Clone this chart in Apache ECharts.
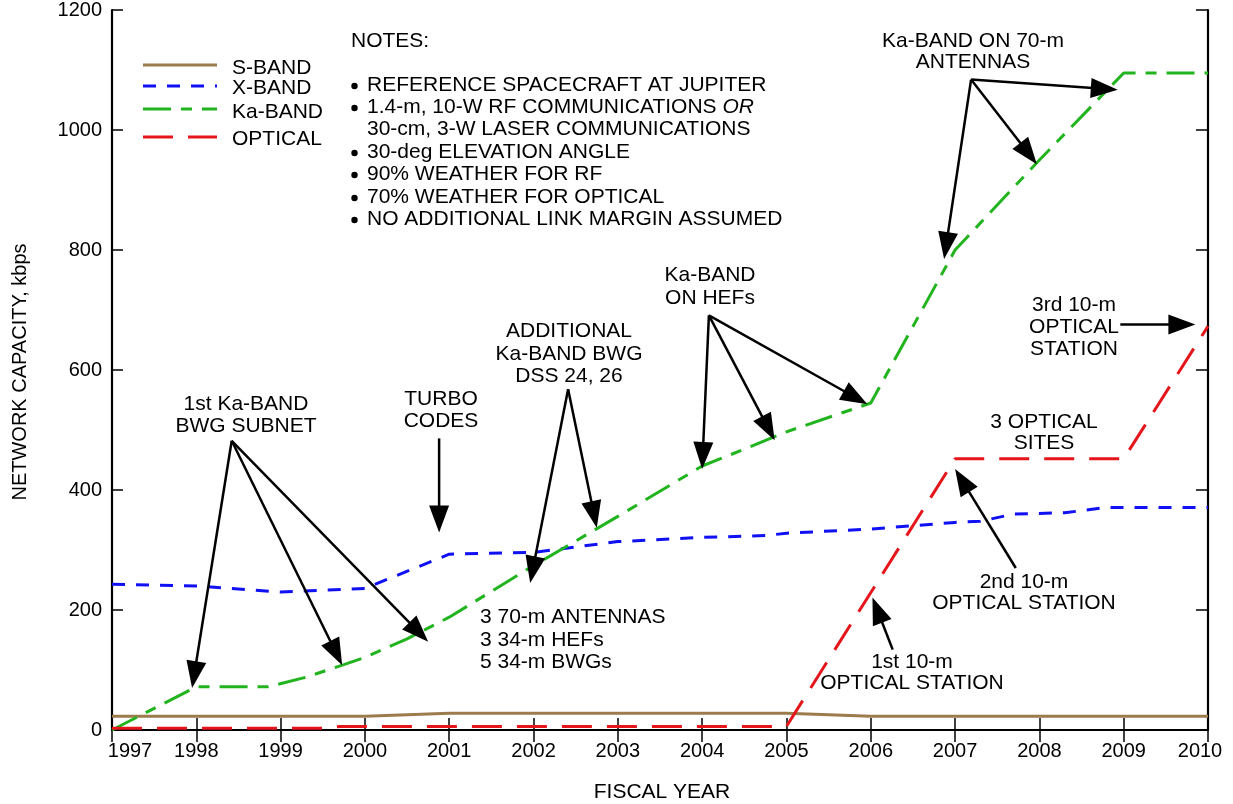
<!DOCTYPE html>
<html>
<head>
<meta charset="utf-8">
<script src="https://cdn.jsdelivr.net/npm/echarts@6/dist/echarts.min.js"></script>
<style>
  html, body { margin: 0; padding: 0; background: #ffffff; }
  #chart { width: 1233px; height: 804px; }
</style>
</head>
<body>
<div id="chart"></div>
<script>
// ---- Network capacity (kbps) by fiscal year ----
const sBandYears  = [1997, 2000, 2001, 2005, 2006, 2010];
const sBandKbps   = [23, 23, 28, 28, 23, 23];

const xBandYears  = [1997, 1998, 1999, 2000, 2001, 2002, 2003, 2004, 2004.75, 2005, 2006, 2007, 2007.3, 2007.7, 2008.3, 2008.8, 2010];
const xBandKbps   = [243, 240, 230, 236, 293, 296, 314, 321, 324, 328, 335, 346, 348, 360, 362, 371, 371];

const kaBandYears = [1997, 1998, 1998.85, 1999.3, 1999.75, 2000, 2000.5, 2001, 2002, 2003, 2004, 2004.5, 2005, 2006, 2007, 2008, 2009, 2010];
const kaBandKbps  = [0, 72, 72, 88, 109, 121, 152, 188, 274, 356, 440, 468, 497, 545, 800, 950, 1095, 1095];

const opticalYears = [1997, 1999.5, 1999.7, 2005, 2007, 2009, 2010];
const opticalKbps  = [3, 3, 6, 6, 452, 452, 673];

// Axis ranges and ticks
const yearMin = 1997, yearMax = 2010, yearStep = 1;
const kbpsMin = 0, kbpsMax = 1200, kbpsStep = 200;

// Callout arrows: [fromYear, fromKbps, toYear, toKbps]
const arrows = [
  [1998.42, 482, 1997.95, 70],
  [1998.42, 482, 1999.73, 108],
  [1998.42, 482, 2000.75, 147],
  [2000.88, 486, 2000.88, 329],
  [2002.41, 568, 2001.96, 245],
  [2002.41, 568, 2002.75, 337],
  [2004.08, 691, 2004.00, 435],
  [2004.08, 691, 2004.86, 483],
  [2004.08, 691, 2005.96, 543],
  [2007.19, 1084, 2006.87, 785],
  [2007.19, 1084, 2007.97, 943],
  [2007.19, 1084, 2008.93, 1067],
  [2008.96, 676, 2009.85, 676],
  [2007.72, 270, 2007.00, 435],
  [2006.26, 134, 2006.02, 221]
];

const FONT = '"Liberation Sans", Arial, Helvetica, sans-serif';

const seriesDefs = [
  { name: 'S-BAND',  years: sBandYears,   kbps: sBandKbps,   color: '#9c7b4c', dash: null },
  { name: 'X-BAND',  years: xBandYears,   kbps: xBandKbps,   color: '#1010f4', dash: [13, 11] },
  { name: 'Ka-BAND', years: kaBandYears,  kbps: kaBandKbps,  color: '#22b41e', dash: [28, 10, 11, 10] },
  { name: 'OPTICAL', years: opticalYears, kbps: opticalKbps, color: '#e5161b', dash: [30, 15] }
];

const chart = echarts.init(document.getElementById('chart'), null, { renderer: 'canvas' });

const lineSeries = seriesDefs.map(d => ({
  name: d.name,
  type: 'line',
  data: d.years.map((y, i) => [y, d.kbps[i]]),
  showSymbol: false,
  symbol: 'none',
  silent: true,
  animation: false,
  lineStyle: { color: d.color, width: 3, type: d.dash ? d.dash : 'solid' },
  z: 3
}));

// Arrow callouts drawn through the axes' coordinate system
const arrowSeries = {
  type: 'custom',
  name: 'callouts',
  data: arrows,
  encode: { x: [0, 2], y: [1, 3] },
  silent: true,
  animation: false,
  clip: false,
  z: 5,
  renderItem: function (params, api) {
    const p1 = api.coord([api.value(0), api.value(1)]);
    const p2 = api.coord([api.value(2), api.value(3)]);
    const dx = p2[0] - p1[0], dy = p2[1] - p1[1];
    const len = Math.hypot(dx, dy);
    const ux = dx / len, uy = dy / len;
    const headLen = 27, headHalf = 10;
    const bx = p2[0] - ux * headLen, by = p2[1] - uy * headLen;
    return {
      type: 'group',
      children: [
        { type: 'line', shape: { x1: p1[0], y1: p1[1], x2: bx + ux * 2, y2: by + uy * 2 },
          style: { stroke: '#000', lineWidth: 2.5 } },
        { type: 'polygon',
          shape: { points: [[p2[0], p2[1]], [bx - uy * headHalf, by + ux * headHalf], [bx + uy * headHalf, by - ux * headHalf]] },
          style: { fill: '#000' } }
      ]
    };
  }
};

function txt(text, x, y, align, opts) {
  return Object.assign({
    type: 'text',
    x: x, y: y,
    silent: true,
    style: Object.assign({
      text: text,
      fill: '#000',
      fontSize: 21,
      fontFamily: FONT,
      align: align || 'center',
      verticalAlign: 'top',
      lineHeight: 22
    }, (opts && opts.style) || {})
  }, (opts && opts.el) || {});
}

// Legend block (line samples + names)
const legendRows = [
  { lineY: 65, textY: 68 },
  { lineY: 86, textY: 88 },
  { lineY: 109, textY: 112 },
  { lineY: 137, textY: 139 }
];
const legendEls = [];
seriesDefs.forEach((d, i) => {
  const r = legendRows[i];
  legendEls.push({
    type: 'line', silent: true,
    shape: { x1: 143, y1: r.lineY, x2: 217, y2: r.lineY },
    style: { stroke: d.color, lineWidth: 3, lineDash: d.dash || null }
  });
  legendEls.push(txt(d.name, 232, r.textY, 'left', { style: { verticalAlign: 'middle' } }));
});

// Notes block
const notesEls = [
  txt('NOTES:', 351, 41, 'left', { style: { verticalAlign: 'middle' } })
];
const noteLines = [
  { y: 85,  bullet: true,  text: 'REFERENCE SPACECRAFT AT JUPITER' },
  { y: 107, bullet: true,  text: '1.4-m, 10-W RF COMMUNICATIONS {i|OR}' },
  { y: 129, bullet: false, text: '30-cm, 3-W LASER COMMUNICATIONS' },
  { y: 152, bullet: true,  text: '30-deg ELEVATION ANGLE' },
  { y: 174, bullet: true,  text: '90% WEATHER FOR RF' },
  { y: 197, bullet: true,  text: '70% WEATHER FOR OPTICAL' },
  { y: 219, bullet: true,  text: 'NO ADDITIONAL LINK MARGIN ASSUMED' }
];
noteLines.forEach(n => {
  if (n.bullet) {
    notesEls.push({ type: 'circle', silent: true, shape: { cx: 354.5, cy: n.y + 1, r: 3.2 }, style: { fill: '#000' } });
  }
  notesEls.push(txt(n.text, 367, n.y, 'left', {
    style: {
      verticalAlign: 'middle',
      rich: { i: { fontStyle: 'italic', fontSize: 21, fontFamily: FONT, fill: '#000' } }
    }
  }));
});

// Callout captions
const captionEls = [
  txt('1st Ka-BAND\nBWG SUBNET', 246, 393, 'center'),
  txt('TURBO\nCODES', 441, 388, 'center'),
  txt('ADDITIONAL\nKa-BAND BWG\nDSS 24, 26', 569, 320, 'center', { style: { lineHeight: 22.5 } }),
  txt('Ka-BAND\nON HEFs', 710, 264, 'center', { style: { lineHeight: 23 } }),
  txt('Ka-BAND ON 70-m\nANTENNAS', 973, 30, 'center', { style: { lineHeight: 21.5 } }),
  txt('3rd 10-m\nOPTICAL\nSTATION', 1074, 294, 'center'),
  txt('3 OPTICAL\nSITES', 1044, 412, 'center', { style: { lineHeight: 21 } }),
  txt('2nd 10-m\nOPTICAL STATION', 1024, 572, 'center', { style: { lineHeight: 21 } }),
  txt('1st 10-m\nOPTICAL STATION', 912, 652, 'center', { style: { lineHeight: 21 } }),
  txt('3 70-m ANTENNAS\n3 34-m HEFs\n5 34-m BWGs', 480, 606, 'left', { style: { lineHeight: 22.5 } })
];

// Axis titles
const titleEls = [
  txt('FISCAL YEAR', 662, 792, 'center', { style: { verticalAlign: 'middle' } }),
  txt('NETWORK CAPACITY, kbps', 20, 372, 'center', {
    style: { verticalAlign: 'middle', fontSize: 20 },
    el: { rotation: Math.PI / 2 }
  })
];

const tickFont = { fontSize: 20, fontFamily: FONT, color: '#000' };
const frameLine = { show: true, lineStyle: { color: '#000', width: 2.2 } };
const tickStyle = (len) => ({ show: true, inside: true, length: len, lineStyle: { color: '#000', width: 1.5 } });

const option = {
  backgroundColor: '#ffffff',
  animation: false,
  grid: { left: 112, right: 25, top: 8, bottom: 74, containLabel: false },
  xAxis: [
    {
      type: 'value', position: 'bottom',
      min: yearMin, max: yearMax, interval: yearStep,
      axisLine: frameLine, axisTick: tickStyle(12), splitLine: { show: false },
      axisLabel: Object.assign({
        margin: 11,
        formatter: function (v) {
          if (v === yearMin) return '{first|' + v + '}';
          if (v === yearMax) return '{last|' + v + '}';
          return String(v);
        },
        rich: {
          first: Object.assign({ padding: [0, 0, 0, 36] }, tickFont),
          last: Object.assign({ padding: [0, 16, 0, 0] }, tickFont)
        }
      }, tickFont)
    },
    {
      type: 'value', position: 'top',
      min: yearMin, max: yearMax, interval: yearStep,
      axisLine: frameLine, axisTick: tickStyle(12), splitLine: { show: false },
      axisLabel: { show: false }
    }
  ],
  yAxis: [
    {
      type: 'value', position: 'left',
      min: kbpsMin, max: kbpsMax, interval: kbpsStep,
      axisLine: frameLine, axisTick: tickStyle(11), splitLine: { show: false },
      axisLabel: Object.assign({ margin: 10, formatter: v => String(v) }, tickFont)
    },
    {
      type: 'value', position: 'right',
      min: kbpsMin, max: kbpsMax, interval: kbpsStep,
      axisLine: frameLine, axisTick: tickStyle(12), splitLine: { show: false },
      axisLabel: { show: false }
    }
  ],
  series: lineSeries.concat([arrowSeries]),
  graphic: { elements: legendEls.concat(notesEls, captionEls, titleEls) }
};

chart.setOption(option);
</script>
</body>
</html>
